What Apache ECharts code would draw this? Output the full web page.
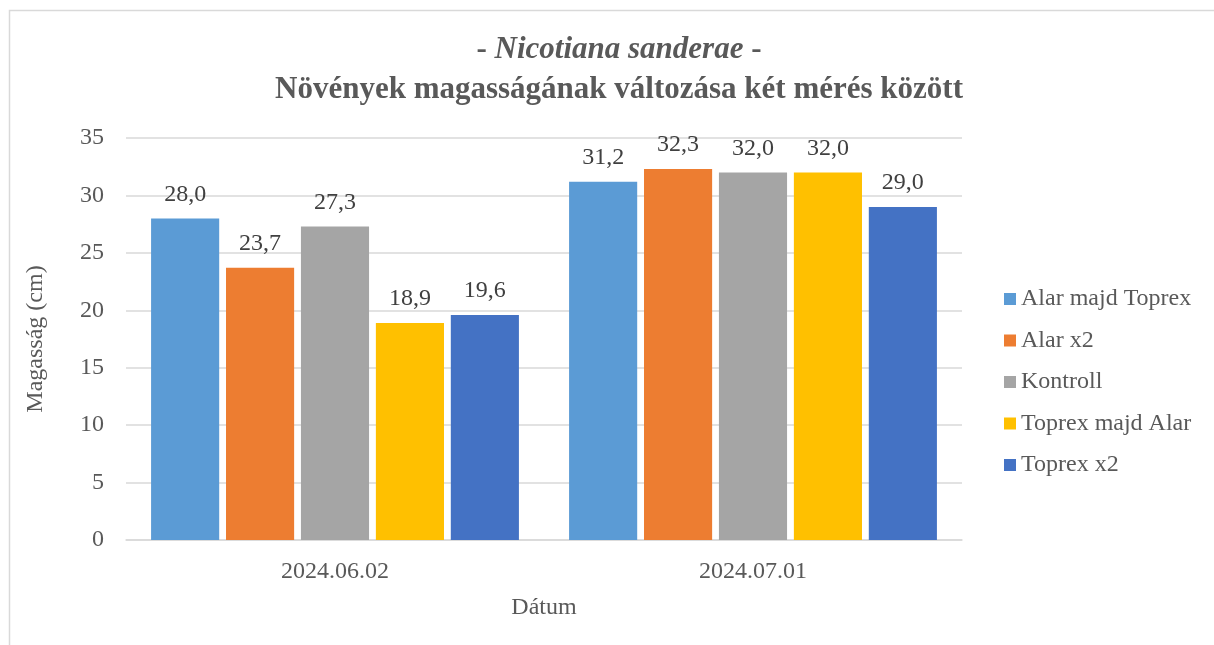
<!DOCTYPE html>
<html>
<head>
<meta charset="utf-8">
<script src="https://cdn.jsdelivr.net/npm/echarts@6/dist/echarts.min.js"></script>
<style>
  html, body { margin: 0; padding: 0; background: #fff; }
  #chart { width: 1214px; height: 645px; }
</style>
</head>
<body>
<div id="chart"></div>
<script>
const dates = ['2024.06.02', '2024.07.01']
const seriesNames = ['Alar majd Toprex', 'Alar x2', 'Kontroll', 'Toprex majd Alar', 'Toprex x2']
const alarMajdToprex = [28.0, 31.2]
const alarX2 = [23.7, 32.3]
const kontroll = [27.3, 32.0]
const toprexMajdAlar = [18.9, 32.0]
const toprexX2 = [19.6, 29.0]
const yTicks = [0, 35, 5]

const values = [alarMajdToprex, alarX2, kontroll, toprexMajdAlar, toprexX2]
const colors = ['#5B9BD5', '#ED7D31', '#A5A5A5', '#FFC000', '#4472C4']
const font = '"Liberation Serif", "Times New Roman", serif'

const chart = echarts.init(document.getElementById('chart'))

const option = {
  animation: false,
  color: colors,
  textStyle: { fontFamily: font },
  graphic: [{
    type: 'rect',
    shape: { x: 9.5, y: 10.5, width: 1240, height: 700 },
    style: { fill: 'none', stroke: '#d9d9d9', lineWidth: 1.5 },
    silent: true
  }],
  title: {
    text: '{it|- }{iti|Nicotiana sanderae}{it| -}\n{b|Növények magasságának változása két mérés között}',
    left: 614,
    textAlign: 'center',
    top: 25,
    textStyle: {
      rich: {
        it: { fontFamily: font, fontSize: 31, fontWeight: 'bold', color: '#595959', lineHeight: 40 },
        iti: { fontFamily: font, fontSize: 31, fontWeight: 'bold', fontStyle: 'italic', color: '#595959', lineHeight: 40 },
        b: { fontFamily: font, fontSize: 31, fontWeight: 'bold', color: '#595959', lineHeight: 40 }
      }
    }
  },
  legend: {
    orient: 'vertical',
    left: 999,
    top: 282,
    itemWidth: 12,
    itemHeight: 12,
    itemGap: 17.5,
    icon: 'rect',
    textStyle: { fontFamily: font, fontSize: 24, color: '#595959' },
    data: seriesNames
  },
  grid: {
    left: 126,
    right: 252,
    top: 138,
    bottom: 105,
    containLabel: false
  },
  xAxis: {
    type: 'category',
    data: dates,
    name: 'Dátum',
    nameLocation: 'middle',
    nameGap: 56,
    nameTextStyle: { fontFamily: font, fontSize: 24, color: '#595959' },
    axisLine: { lineStyle: { color: '#d9d9d9', width: 1.5 } },
    axisTick: { show: false },
    axisLabel: { fontFamily: font, fontSize: 24, color: '#595959', margin: 20 }
  },
  yAxis: {
    type: 'value',
    min: yTicks[0],
    max: yTicks[1],
    interval: yTicks[2],
    name: 'Magasság (cm)',
    nameLocation: 'middle',
    nameGap: 78,
    nameTextStyle: { fontFamily: font, fontSize: 24, color: '#595959' },
    axisLine: { show: false },
    axisTick: { show: false },
    axisLabel: { fontFamily: font, fontSize: 24, color: '#595959', margin: 22 },
    splitLine: { lineStyle: { color: '#d9d9d9', width: 1.5 } }
  },
  series: seriesNames.map((name, i) => ({
    name: name,
    type: 'bar',
    data: values[i],
    barGap: '10%',
    barCategoryGap: '12%',
    itemStyle: { color: colors[i] },
    label: {
      show: true,
      position: 'top',
      distance: 12,
      fontFamily: font,
      fontSize: 24,
      color: '#404040',
      formatter: (p) => p.value.toFixed(1).replace('.', ',')
    }
  }))
}

chart.setOption(option)
</script>
</body>
</html>
